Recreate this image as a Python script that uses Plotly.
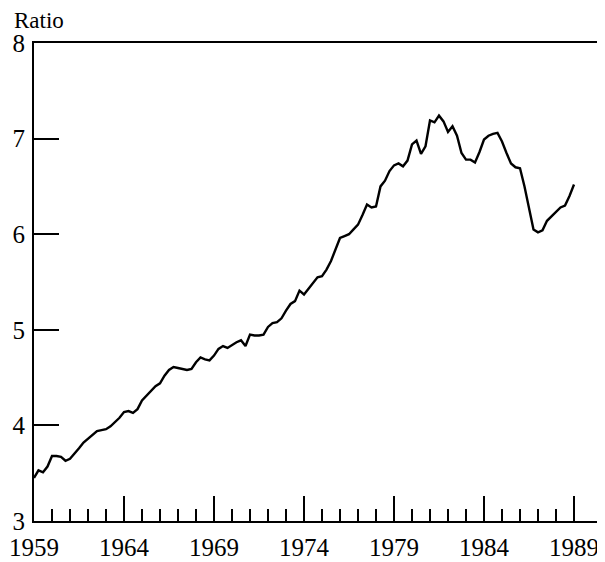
import plotly.graph_objects as go

years = list(range(1959, 1990))
# quarterly values, 1959Q1 .. 1989Q1
values = [
    3.45, 3.53, 3.51, 3.57,
    3.68, 3.68, 3.67, 3.63,
    3.65, 3.70, 3.76, 3.82,
    3.86, 3.90, 3.94, 3.95,
    3.96, 3.99, 4.03, 4.08,
    4.14, 4.15, 4.13, 4.17,
    4.26, 4.31, 4.36, 4.41,
    4.44, 4.52, 4.58, 4.61,
    4.60, 4.59, 4.58, 4.59,
    4.66, 4.71, 4.69, 4.68,
    4.73, 4.80, 4.83, 4.81,
    4.84, 4.87, 4.89, 4.83,
    4.95, 4.94, 4.94, 4.95,
    5.03, 5.07, 5.08, 5.12,
    5.20, 5.27, 5.30, 5.41,
    5.37, 5.43, 5.50, 5.55,
    5.56, 5.63, 5.72, 5.85,
    5.96, 5.98, 6.00, 6.05,
    6.10, 6.20, 6.31, 6.28,
    6.29, 6.50, 6.56, 6.66,
    6.72, 6.74, 6.71, 6.77,
    6.94, 6.98, 6.84, 6.92,
    7.19, 7.17, 7.24, 7.18,
    7.07, 7.13, 7.03, 6.85,
    6.78, 6.78, 6.75, 6.86,
    6.99, 7.03, 7.05, 7.06,
    6.97, 6.85, 6.74, 6.70,
    6.69, 6.50, 6.27, 6.05,
    6.02, 6.04, 6.14, 6.19,
    6.24, 6.28, 6.30, 6.40,
    6.52,
]
dates = [1959 + i / 4 for i in range(len(values))]
x_tick_labels = [str(y) for y in range(1959, 1990, 5)]
y_ticks = [3, 4, 5, 6, 7, 8]

FONT = "Liberation Serif"

fig = go.Figure()
fig.add_trace(go.Scatter(x=dates, y=values, mode="lines",
                         line=dict(color="black", width=2.4),
                         hoverinfo="skip", showlegend=False))

fig.update_layout(
    width=597, height=554,
    margin=dict(l=26, r=0, t=35, b=41),
    paper_bgcolor="white", plot_bgcolor="white",
    font=dict(family=FONT, size=25, color="black"),
    xaxis=dict(range=[1959, 1959 + 571 / 18],
               tickmode="array",
               tickvals=[int(t) for t in x_tick_labels],
               ticktext=x_tick_labels,
               ticks="inside", ticklen=25, tickwidth=2, tickcolor="black",
               minor=dict(tickmode="array", tickvals=years, ticks="inside",
                          ticklen=12, tickwidth=2, tickcolor="black"),
               showline=True, linecolor="black", linewidth=2, mirror=True,
               showgrid=False, zeroline=False, ticklabelstandoff=3,
               automargin=False),
    yaxis=dict(range=[3, 8], tickmode="array", tickvals=y_ticks,
               ticktext=[str(v) for v in y_ticks],
               ticks="inside", ticklen=25, tickwidth=2, tickcolor="black",
               showline=True, linecolor="black", linewidth=2,
               showgrid=False, zeroline=False, ticklabelstandoff=2,
               automargin=False),
    annotations=[dict(text="Ratio", x=0, y=1, xref="paper", yref="paper",
                      xshift=-22, yshift=8, xanchor="left", yanchor="bottom",
                      showarrow=False, font=dict(family=FONT, size=23))],
)

fig.write_html("out.html")
